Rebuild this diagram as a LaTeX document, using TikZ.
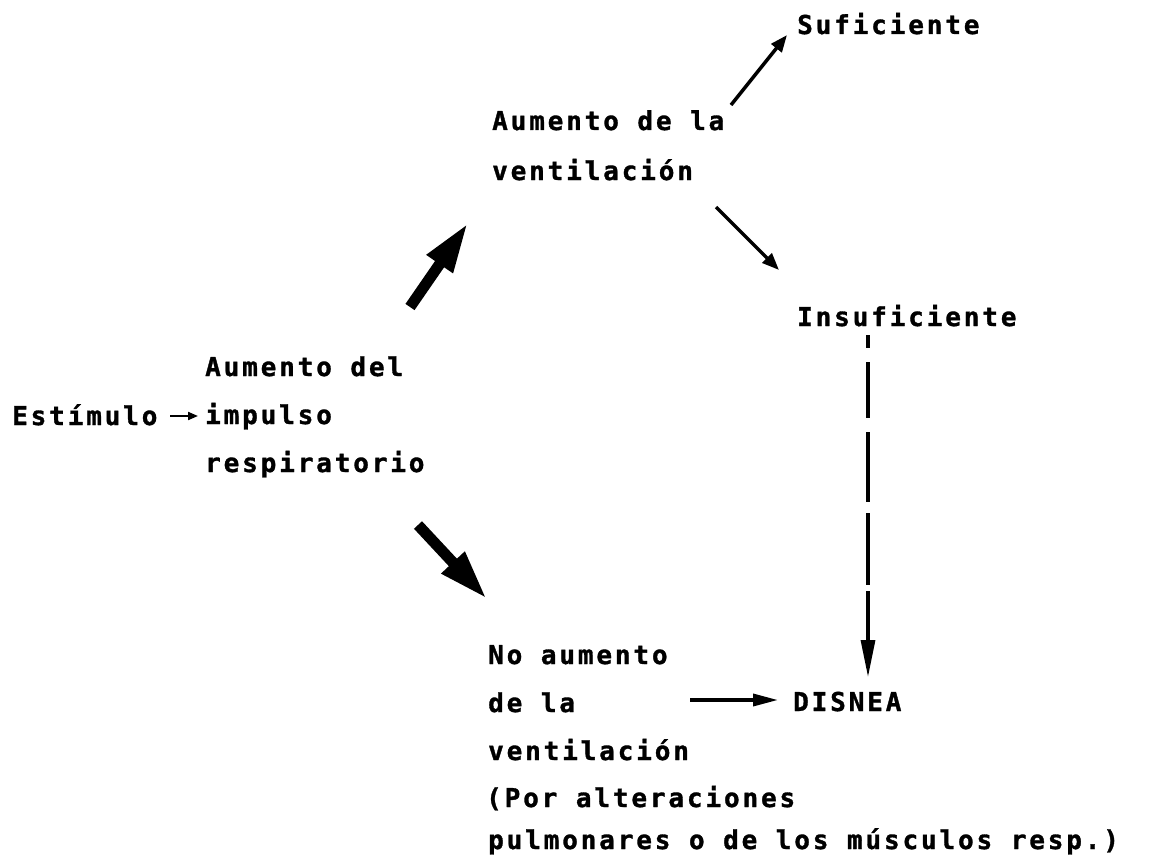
\documentclass[tikz,border=0pt]{standalone}
\usepackage{fontspec}
\newfontfamily\dotfont{DejaVu Sans Mono Bold}[LetterSpace=11, FakeBold=1.2]
\usetikzlibrary{arrows.meta}

\begin{document}
\begin{tikzpicture}[x=1pt,y=-1pt,
  lbl/.style={anchor=base west, inner sep=0pt, font={\dotfont\fontsize{26pt}{30pt}\selectfont}},
  thinarrow/.style={line width=3.5pt, -{Triangle[length=17pt,width=13pt]}},
  bigarrow/.style={line width=11pt, -{Triangle[length=50pt,width=29pt]}},
  dasharrow/.style={line width=3.2pt, -{Triangle[length=37pt,width=14pt]},
    dash pattern=on 13pt off 14pt on 56pt off 14pt on 70pt off 11pt on 72pt off 6pt on 400pt}]
\useasboundingbox (0,0) rectangle (1153,856);

% labels
\node[lbl] (suf)   at (797,34)  {Suficiente};
\node[lbl] (aumv1) at (492,130) {Aumento de la};
\node[lbl] (aumv2) at (492,180) {ventilación};
\node[lbl] (insuf) at (797,326) {Insuficiente};
\node[lbl] (est)   at (12,425)  {Estímulo};
\node[lbl] (aumi1) at (205,376) {Aumento del};
\node[lbl] (aumi2) at (205,424) {impulso};
\node[lbl] (aumi3) at (205,472) {respiratorio};
\node[lbl] (no1)   at (488,664) {No aumento};
\node[lbl] (no2)   at (488,712) {de la};
\node[lbl] (no3)   at (488,760) {ventilación};
\node[lbl] (no4)   at (486,807) {(Por alteraciones};
\node[lbl] (no5)   at (488,849) {pulmonares o de los músculos resp.)};
\node[lbl] (dis)   at (793,711) {DISNEA};

% connector end points
\coordinate (sufA)  at (731,105);
\coordinate (sufB)  at (787,35);
\coordinate (insA)  at (716,207);
\coordinate (insB)  at (779,270);
\coordinate (dashA) at (868,335);
\coordinate (dashB) at (868,677);
\coordinate (disA)  at (690,700);
\coordinate (disB)  at (778,700);
\coordinate (estA)  at (170,416);
\coordinate (estB)  at (198,416);
\coordinate (upA)   at (410,307);
\coordinate (upB)   at (468,223);
\coordinate (dnA)   at (418,525);
\coordinate (dnB)   at (487,599);

% connectors
\draw[thinarrow] (sufA) -- (sufB);
\draw[thinarrow] (insA) -- (insB);
\draw[dasharrow] (dashA) -- (dashB);
\draw[line width=3.5pt, -{Triangle[length=25pt,width=12pt]}] (disA) -- (disB);
\draw[line width=2pt, -{Triangle[length=10pt,width=8pt]}] (estA) -- (estB);
\draw[bigarrow] (upA) -- (upB);
\draw[bigarrow] (dnA) -- (dnB);
\end{tikzpicture}
\end{document}
